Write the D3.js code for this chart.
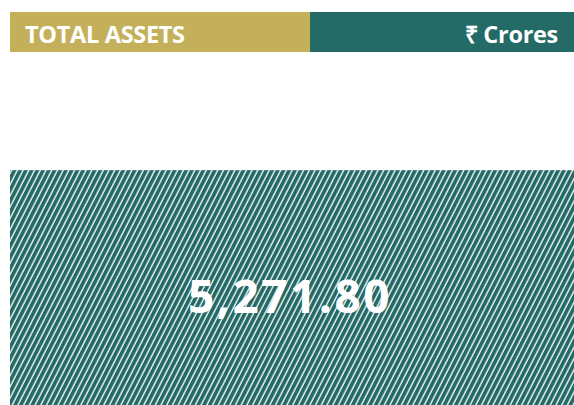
<!DOCTYPE html>
<html><head><meta charset="utf-8">
<script src="https://cdn.jsdelivr.net/npm/d3@7"></script>
<style>html,body{margin:0;padding:0;background:#fff;}svg{display:block;}</style>
</head><body>
<script>
const categories = ["Total Assets"];
const values = [5271.80];
const titleText = "TOTAL ASSETS";
const unitText = "₹ Crores";

const W = 574, H = 405;
const svg = d3.select("body").append("svg").attr("width", W).attr("height", H);

const defs = svg.append("defs");
const pat = defs.append("pattern").attr("id", "hatch")
  .attr("patternUnits", "userSpaceOnUse").attr("width", 5.1).attr("height", 10)
  .attr("patternTransform", "rotate(27)");
pat.append("rect").attr("width", 5.1).attr("height", 10).attr("fill", "#246a67");
pat.append("line").attr("x1", 1).attr("x2", 1).attr("y1", 0).attr("y2", 10)
  .attr("stroke", "#ffffff").attr("stroke-width", 1.3);

// header
svg.append("rect").attr("x", 10).attr("y", 12).attr("width", 300).attr("height", 40).attr("fill", "#c4b05b");
svg.append("rect").attr("x", 310).attr("y", 12).attr("width", W - 310).attr("height", 40).attr("fill", "#246a67");
svg.append("text").attr("x", 25).attr("y", 42.5).text(titleText)
  .attr("fill", "#fff").attr("font-family", "Open Sans").attr("font-weight", 700)
  .attr("font-size", 23.5).attr("letter-spacing", -0.3);
svg.append("text").attr("x", 558).attr("y", 42.5).attr("text-anchor", "end").text(unitText)
  .attr("fill", "#fff").attr("font-family", "Open Sans").attr("font-weight", 700)
  .attr("font-size", 23.5).attr("letter-spacing", -0.3);

const x = d3.scaleBand().domain(categories).range([10, W]).padding(0);
const y = d3.scaleLinear().domain([0, 7700]).range([H, 62]);

svg.selectAll("rect.bar").data(values).enter().append("rect").attr("class", "bar")
  .attr("x", (d, i) => x(categories[i])).attr("width", x.bandwidth())
  .attr("y", d => y(d)).attr("height", d => y(0) - y(d)).attr("fill", "url(#hatch)");

const fmt = d3.format(",.2f");
svg.selectAll("text.val").data(values).enter().append("text").attr("class", "val")
  .attr("x", (d, i) => x(categories[i]) + x.bandwidth() / 2 - 2)
  .attr("y", d => (y(d) + y(0)) / 2 + 25)
  .attr("text-anchor", "middle").text(d => fmt(d))
  .attr("fill", "#fff").attr("font-family", "Open Sans").attr("font-weight", 700)
  .attr("font-size", 46).attr("letter-spacing", 2.5);
</script>
</body></html>
